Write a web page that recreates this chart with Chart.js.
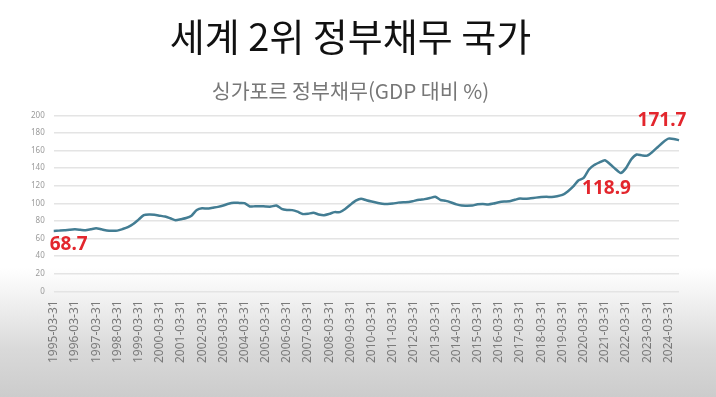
<!DOCTYPE html>
<html lang="ko">
<head>
<meta charset="utf-8">
<title>싱가포르 정부채무</title>
<script src="https://cdn.jsdelivr.net/npm/chart.js@4.4.1/dist/chart.umd.min.js"></script>
<style>
  html, body { margin: 0; padding: 0; }
  body {
    width: 716px;
    height: 397px;
    overflow: hidden;
    background: linear-gradient(to bottom, #ffffff 0px, #ffffff 268px, #f1f1f1 300px, #d9d9d9 350px, #cccccc 397px);
  }
  #debtChart { display: block; }
</style>
</head>
<body>
<canvas id="debtChart" width="716" height="397"></canvas>
<script>
// ── Data (quarter-end, % of GDP) ──
const years = [];
for (let y = 1995; y <= 2024; y++) years.push(y);
const quarterEnds = ["03-31", "06-30", "09-30", "12-31"];
const lastQuarters = 3; // series stops at 2024-09-30

const labels = [];
years.forEach((y, yi) => {
  const n = yi === years.length - 1 ? lastQuarters : 4;
  for (let q = 0; q < n; q++) labels.push(`${y}-${quarterEnds[q]}`);
});

const debtRatio = [
  68.7, 69.0, 69.3, 70.0, 70.5, 70.0, 69.4, 70.5, 71.7, 70.5,
  69.2, 68.8, 69.0, 70.8, 73.0, 76.5, 81.5, 86.5, 87.3, 87.0,
  86.0, 85.0, 83.0, 80.8, 82.0, 83.3, 86.0, 92.5, 94.5, 94.0,
  95.0, 96.0, 97.5, 99.5, 100.6, 100.5, 100.3, 96.4, 96.7, 96.8,
  96.4, 96.3, 97.6, 93.8, 92.5, 92.3, 90.5, 87.8, 88.2, 89.3,
  87.4, 86.5, 88.0, 90.0, 90.0, 93.5, 98.5, 103.0, 105.3, 103.5,
  102.0, 100.7, 99.5, 99.2, 99.7, 100.8, 101.3, 101.5, 102.8, 104.0,
  104.8, 106.0, 107.4, 103.8, 102.8, 101.0, 98.8, 97.5, 97.4, 97.6,
  98.9, 99.2, 98.8, 99.8, 101.2, 102.0, 102.4, 104.0, 105.4, 105.1,
  105.8, 106.5, 107.1, 107.4, 107.1, 108.0, 109.5, 113.5, 118.9, 126.0,
  128.9, 138.5, 143.5, 146.5, 149.0, 144.5, 139.0, 134.5, 140.0, 150.0,
  155.5, 154.5, 154.2, 158.5, 164.0, 169.5, 173.5, 173.2, 171.7
];

// highlighted values: [index, text, dx, dy, align]
const callouts = [
  [0, "68.7", -4, 14, "left"],
  [98, "118.9", 9, 2, "left"],
  [118, "171.7", -17, -20, "center"]
];

// ── Callout labels ──
const calloutPlugin = {
  id: "callouts",
  afterDatasetsDraw(chart) {
    const { ctx, scales } = chart;
    ctx.save();
    ctx.font = 'bold 19px "Noto Sans", "DejaVu Sans", sans-serif';
    ctx.fillStyle = "#e3262d";
    ctx.textBaseline = "middle";
    callouts.forEach(([i, text, dx, dy, align]) => {
      ctx.textAlign = align;
      const x = scales.x.getPixelForValue(i);
      const y = scales.y.getPixelForValue(debtRatio[i]);
      ctx.fillText(text, x + dx, y + dy);
    });
    ctx.restore();
  },
};

const ctx = document.getElementById("debtChart").getContext("2d");

new Chart(ctx, {
  type: "line",
  data: {
    labels,
    datasets: [
      {
        label: "정부채무",
        data: debtRatio,
        borderColor: "#437d93",
        borderWidth: 2.5,
        pointRadius: 0,
        tension: 0.2,
        fill: false,
      },
    ],
  },
  options: {
    responsive: false,
    animation: false,
    layout: { padding: { left: 22, right: 37, top: 0, bottom: 25 } },
    plugins: {
      legend: { display: false },
      tooltip: { enabled: false },
      title: {
        display: true,
        text: "세계 2위 정부채무 국가",
        color: "#111111",
        font: { family: '"Noto Sans CJK KR", sans-serif', size: 38, weight: "normal" },
        padding: { top: 14, bottom: 9 },
      },
      subtitle: {
        display: true,
        text: "싱가포르 정부채무(GDP 대비 %)",
        color: "#777777",
        font: { family: '"Noto Sans CJK KR", sans-serif', size: 20.6, weight: "normal" },
        padding: { top: 10, bottom: 12 },
      },
    },
    scales: {
      x: {
        grid: { display: false, drawTicks: false },
        border: { display: false },
        ticks: {
          autoSkip: false,
          maxRotation: 90,
          minRotation: 90,
          padding: 9,
          color: "#7a7a7a",
          font: { family: '"Noto Sans", sans-serif', size: 12 },
          callback: (v, i) => (i % 4 === 0 ? labels[i] : null),
        },
      },
      y: {
        min: 0,
        max: 200,
        grid: { color: "#e4e4e4", lineWidth: 1.5, drawTicks: false },
        border: { display: false },
        ticks: {
          stepSize: 20,
          padding: 9,
          color: "#9a9a9a",
          font: { family: '"Noto Sans", sans-serif', size: 8 },
        },
      },
    },
  },
  plugins: [calloutPlugin],
});
</script>
</body>
</html>
